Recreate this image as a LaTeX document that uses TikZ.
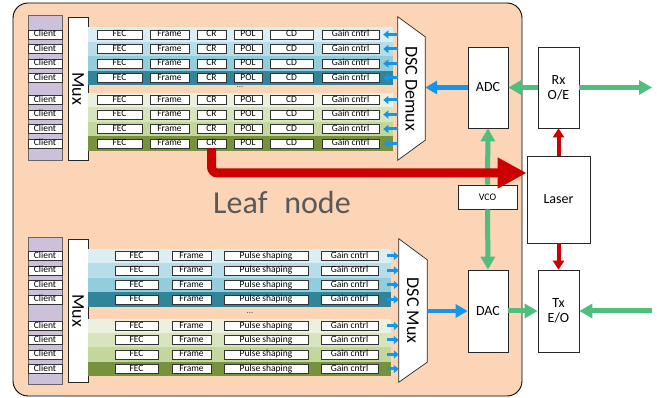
\documentclass[tikz,border=0pt]{standalone}
\usepackage{fontspec}
\setmainfont{Carlito}
\usetikzlibrary{arrows.meta, positioning}

\definecolor{leafbg}{RGB}{251,213,181}
\definecolor{clientbg}{RGB}{204,192,218}
\definecolor{bA}{RGB}{218,238,243}
\definecolor{bB}{RGB}{183,222,232}
\definecolor{bC}{RGB}{146,205,220}
\definecolor{bD}{RGB}{49,133,155}
\definecolor{gA}{RGB}{235,241,222}
\definecolor{gB}{RGB}{215,228,189}
\definecolor{gC}{RGB}{195,214,155}
\definecolor{gD}{RGB}{118,146,60}
\definecolor{sigblue}{RGB}{20,150,235}
\definecolor{siggreen}{RGB}{80,190,125}
\definecolor{lasred}{RGB}{204,0,0}
\definecolor{leaftext}{RGB}{89,89,89}

\tikzset{
  box/.style={draw=black!80, fill=white, line width=0.6pt, inner sep=0pt,
    minimum height=9pt, text height=6.3pt, text depth=1.7pt,
    font=\fontsize{9.5}{10}\selectfont},
  unit/.style={draw=black!85, fill=white, line width=0.7pt, inner sep=0pt,
    align=center, font=\fontsize{14}{15}\selectfont},
  muxbar/.style={draw=black!85, fill=white, line width=0.7pt, inner sep=0pt,
    rotate=-90, font=\fontsize{18}{18}\selectfont},
  tinyblue/.style={sigblue, line width=3pt, -{Triangle[length=5pt,width=8pt]}},
  bigblue/.style={sigblue, line width=4.5pt, -{Triangle[length=12pt,width=13pt]}},
  biggreen/.style={siggreen, line width=5pt, -{Triangle[length=13pt,width=14pt]}},
  redarr/.style={lasred, line width=4pt, -{Triangle[length=9pt,width=11pt]}},
}

\begin{document}
\begin{tikzpicture}[x=1pt, y=-1pt]
\useasboundingbox (0,0) rectangle (657,398);

% leaf node housing
\draw[fill=leafbg, line width=0.9pt, rounded corners=15pt] (13,3) rectangle (522,396);
\node[text=leaftext, font=\fontsize{32}{32}\selectfont] (leaflbl) at (282,203) {Leaf\hspace{0.3em} node};

% client columns
\draw[fill=clientbg, draw=black!60, line width=0.5pt] (28,15) rectangle (62,160);
\draw[fill=clientbg, draw=black!60, line width=0.5pt] (28,237) rectangle (62,384);

% receive side
\node[muxbar, minimum width=143pt, minimum height=20pt] (rxmux) at (78,88.5) {Mux};
\node[minimum width=27pt, minimum height=143pt, inner sep=0pt] (demux) at (411.5,88.5) {};
\draw[fill=white, draw=black!85, line width=0.7pt] (demux.north west) -- ([yshift=-20pt]demux.north east)
  -- ([yshift=20pt]demux.south east) -- (demux.south west) -- cycle;
\node[rotate=-90, font=\fontsize{18}{18}\selectfont] (demuxlbl) at (demux) {DSC Demux};

\foreach \y/\c [count=\i] in {34.5/bA,49/bB,63.5/bC,78/bD,100/gA,114.5/gB,129/gC,143.5/gD}{
  \fill[\c] (88,\y-7.25) rectangle (393,\y+7.25);
  \node[box, minimum width=34pt] (rcl\i) at (45,\y) {Client};
  \node[box, minimum width=45pt] (rfec\i) at (119.5,\y) {FEC};
  \node[box, minimum width=39pt] (rfr\i) at (169.5,\y) {Frame};
  \node[box, minimum width=29pt] (rcr\i) at (211.5,\y) {CR};
  \node[box, minimum width=28pt] (rpol\i) at (248,\y) {POL};
  \node[box, minimum width=43pt] (rcd\i) at (291.5,\y) {CD};
  \node[box, minimum width=57pt] (rgain\i) at (350.5,\y) {Gain cntrl};
  \draw[tinyblue] (demux.west |- rgain\i) -- ([xshift=4pt]rgain\i.east);
}
\node[text=black!70, font=\fontsize{9}{9}\selectfont] (rdots) at (240,87) {...};

% transmit side
\node[muxbar, minimum width=143pt, minimum height=20pt] (txmux) at (78,310.5) {Mux};
\node[minimum width=28pt, minimum height=143pt, inner sep=0pt] (dscmux) at (413,310.5) {};
\draw[fill=white, draw=black!85, line width=0.7pt] (dscmux.north west) -- ([yshift=-21pt]dscmux.north east)
  -- ([yshift=20pt]dscmux.south east) -- (dscmux.south west) -- cycle;
\node[rotate=-90, font=\fontsize{18}{18}\selectfont] (dscmuxlbl) at (dscmux) {DSC Mux};

\foreach \y/\c [count=\i] in {256/bA,270.5/bB,285/bC,299.5/bD,326/gA,340/gB,354.5/gC,369/gD}{
  \fill[\c] (88,\y-7.25) rectangle (391,\y+7.25);
  \node[box, minimum width=34pt] (tcl\i) at (45,\y) {Client};
  \node[box, minimum width=43pt] (tfec\i) at (136.5,\y) {FEC};
  \node[box, minimum width=39pt] (tfr\i) at (191.5,\y) {Frame};
  \node[box, minimum width=84pt] (tps\i) at (266,\y) {Pulse shaping};
  \node[box, minimum width=57pt] (tgain\i) at (349.5,\y) {Gain cntrl};
  \draw[tinyblue] ([xshift=9pt]tgain\i.east) -- (dscmux.west |- tgain\i);
}
\node[text=black!70, font=\fontsize{9}{9}\selectfont] (tdots) at (250,313) {...};

% converters and optics
\node[unit, minimum width=40pt, minimum height=81pt] (adc) at (488,87.5) {ADC};
\node[unit, minimum width=41pt, minimum height=81pt] (rx) at (558.5,87.5) {Rx\\O/E};
\node[unit, minimum width=63pt, minimum height=87pt] (laser) at (558.5,199.5) {Laser};
\node[unit, minimum width=59pt, minimum height=24pt, font=\fontsize{10}{10}\selectfont] (vco) at (487.5,197) {VCO};
\node[unit, minimum width=40pt, minimum height=82pt] (dac) at (488,311) {DAC};
\node[unit, minimum width=41pt, minimum height=82pt] (tx) at (558.5,311) {Tx\\E/O};
\coordinate (rxout) at (652,87.5);
\coordinate (txin) at (652,311);
\coordinate (redbend) at (0,173);

\draw[bigblue] (adc.west) -- (demux.east |- adc.west);
\draw[biggreen] (rx.west) -- (adc.east);
\draw[biggreen] (rx.east) -- (rxout);
\draw[biggreen] (vco.north) -- (adc.south);
\draw[biggreen] (vco.south) -- (dac.north);
\draw[bigblue] (dscmux.east |- dac.west) -- (dac.west);
\draw[biggreen] (dac.east) -- (tx.west);
\draw[biggreen] (txin) -- (tx.east);
\draw[redarr] (laser.north) -- (rx.south);
\draw[redarr] (laser.south) -- (tx.north);

% carrier recovery feed to the laser
\draw[lasred, line width=9pt, rounded corners=6pt, -{Triangle[length=29pt,width=29pt]}]
  (rcr8.south) -- (rcr8.south |- redbend) -- (laser.west |- redbend);
\end{tikzpicture}
\end{document}
